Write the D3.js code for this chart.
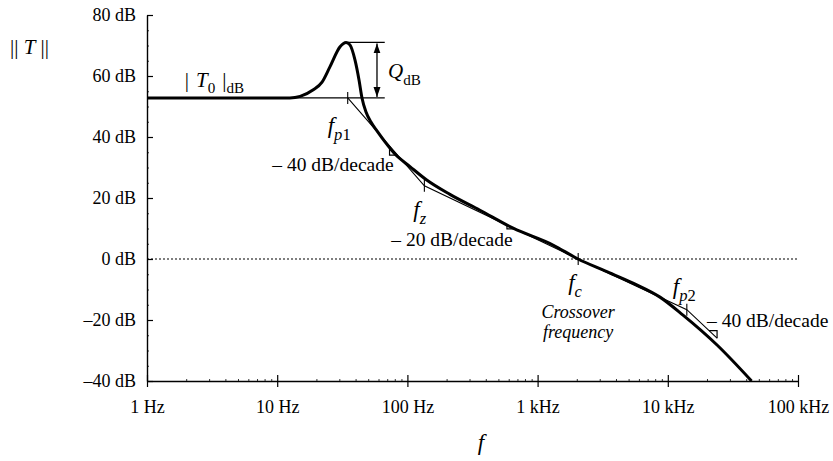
<!DOCTYPE html>
<html>
<head>
<meta charset="utf-8">
<script src="https://cdn.jsdelivr.net/npm/d3@7"></script>
<style>
  body { margin: 0; background: #fff; }
  text { font-family: "Liberation Serif", "Times New Roman", serif; fill: #000; }
</style>
</head>
<body>
<svg id="chart" width="833" height="461"></svg>
<script>
// values
const curveFreq = [1, 10, 12.5, 15, 18.8, 22.1, 25.4, 30.4, 33.8, 36.2, 39.6, 42.5, 44.8, 48.1, 52.5, 58.4, 67.3, 80.3, 104.7, 140.7, 212, 361, 649, 1312, 2043, 3296, 5407, 8710, 13090, 23890, 44000];
const curveDb = [52.8, 52.8, 52.8, 53.3, 55.4, 58.0, 63.0, 69.6, 71.0, 70.2, 65.2, 58.7, 52.8, 48.2, 44.9, 42.0, 38.4, 34.4, 30.3, 25.9, 21.2, 16.0, 10.1, 4.6, 0, -3.9, -7.9, -12.5, -18.4, -28.2, -40];

// asymptotes (break points)
const asymFreq = [34.8, 135, 2050, 14000, 24000];
const asymDb = [52.8, 24, 0, -16.6, -26];

const T0db = 52.8;
const peakFreq = 33.8, peakDb = 71.0;
const bracketEnd = 67;   // Hz, end of the Q bracket lines
const arrowFreq = 58.4;

const xTicks = [1, 10, 100, 1000, 10000, 100000];
const xTickLabels = ['1 Hz', '10 Hz', '100 Hz', '1 kHz', '10 kHz', '100 kHz'];
const yTicks = [-40, -20, 0, 20, 40, 60, 80];
const yTickLabels = ['\u201340 dB', '\u201320 dB', '0 dB', '20 dB', '40 dB', '60 dB', '80 dB'];

// slope markers: frequency on the asymptote, and which way the little corner goes
const slopeMarkFreq = [84, 670, 23900];
const slopeMarkType = ['bl', 'bl', 'tr'];

const svg = d3.select('#chart');

var x = d3.scaleLog().domain([1, 1e5]).range([147, 798]);
var y = d3.scaleLinear().domain([-40, 80]).range([381, 15]);

// minor ticks
const xMinor = [];
for (let d = 1; d < 1e5; d *= 10) for (let k = 2; k <= 9; k++) xMinor.push(d * k);
const yMinor = d3.range(-40, 81, 5).filter(v => v % 20 !== 0);

svg.append('g')
    .attr('transform', `translate(0, ${y(-40)})`)
    .call(d3.axisBottom(x).tickValues(xMinor).tickFormat('').tickSizeInner(-2).tickSizeOuter(0))
    .call(g => g.select('.domain').remove())
    .selectAll('line').attr('stroke-width', 0.8);

svg.append('g')
    .attr('transform', `translate(${x(1)}, 0)`)
    .call(d3.axisLeft(y).tickValues(yMinor).tickFormat('').tickSizeInner(2).tickSizeOuter(0))
    .call(g => g.select('.domain').remove())
    .selectAll('line').attr('x2', 2).attr('stroke-width', 0.8);

// major axes
const xAxis = svg.append('g')
    .attr('transform', `translate(0, ${y(-40)})`)
    .call(d3.axisBottom(x).tickValues(xTicks).tickFormat((d, i) => xTickLabels[i]).tickSize(6).tickSizeOuter(0).tickPadding(13));
xAxis.selectAll('.tick line').attr('y1', -6).attr('stroke-width', 1.2);
xAxis.select('.domain').attr('stroke-width', 1.4);
xAxis.selectAll('text').attr('font-size', 18).attr('font-family', '"Liberation Serif", serif');

const yAxis = svg.append('g')
    .attr('transform', `translate(${x(1)}, 0)`)
    .call(d3.axisLeft(y).tickValues(yTicks).tickFormat((d, i) => yTickLabels[i]).tickSize(6).tickSizeOuter(0).tickPadding(5));
yAxis.selectAll('.tick line').attr('x2', 6).attr('stroke-width', 1.2);
yAxis.select('.domain').attr('stroke-width', 1.4);
yAxis.selectAll('text').attr('font-size', 18).attr('font-family', '"Liberation Serif", serif');

// 0 dB dotted line
svg.append('line')
    .attr('x1', x(1)).attr('x2', x(1e5))
    .attr('y1', y(0)).attr('y2', y(0))
    .attr('stroke', '#000').attr('stroke-width', 1.1)
    .attr('stroke-dasharray', '2,2');

// T0 and Q bracket lines
svg.append('line')
    .attr('x1', x(1)).attr('x2', x(bracketEnd))
    .attr('y1', y(T0db)).attr('y2', y(T0db))
    .attr('stroke', '#000').attr('stroke-width', 1.3);
svg.append('line')
    .attr('x1', x(peakFreq)).attr('x2', x(bracketEnd))
    .attr('y1', y(peakDb)).attr('y2', y(peakDb))
    .attr('stroke', '#000').attr('stroke-width', 1.3);

svg.append('defs').append('marker')
    .attr('id', 'arr')
    .attr('viewBox', '0 0 10 10')
    .attr('refX', 10).attr('refY', 5)
    .attr('markerWidth', 10).attr('markerHeight', 10)
    .attr('markerUnits', 'userSpaceOnUse')
    .attr('orient', 'auto-start-reverse')
    .append('path').attr('d', 'M0,1.5 L10,5 L0,8.5 Z').attr('fill', '#000');

svg.append('line')
    .attr('x1', x(arrowFreq)).attr('x2', x(arrowFreq))
    .attr('y1', y(peakDb) + 1).attr('y2', y(T0db) - 1)
    .attr('stroke', '#000').attr('stroke-width', 1.3)
    .attr('marker-start', 'url(#arr)').attr('marker-end', 'url(#arr)');

// asymptote polyline
const asymData = asymFreq.map((f, i) => ({ f: f, db: asymDb[i] }));
svg.append('path')
    .attr('d', d3.line().x(d => x(d.f)).y(d => y(d.db))(asymData))
    .attr('fill', 'none').attr('stroke', '#000').attr('stroke-width', 1.1);

// ticks on the break frequencies
svg.selectAll('.brk')
    .data(asymData.slice(0, 4))
    .enter().append('line')
    .attr('x1', d => x(d.f)).attr('x2', d => x(d.f))
    .attr('y1', d => y(d.db) - 6).attr('y2', d => y(d.db) + 6)
    .attr('stroke', '#000').attr('stroke-width', 1.1);

// little slope corners
function asymY(px) {
    for (let i = 0; i < asymData.length - 1; i++) {
        const x0 = x(asymData[i].f), x1 = x(asymData[i + 1].f);
        if (px >= x0 && px <= x1) {
            const t = (px - x0) / (x1 - x0);
            return y(asymData[i].db) + t * (y(asymData[i + 1].db) - y(asymData[i].db));
        }
    }
    return y(asymData[asymData.length - 1].db);
}
slopeMarkFreq.forEach((f, i) => {
    const px = x(f), py = asymY(px);
    const ax = px - 8, ay = asymY(ax);
    const d = slopeMarkType[i] === 'bl'
        ? `M${ax},${ay} L${ax},${py} L${px},${py}`
        : `M${ax},${ay} L${px},${ay} L${px},${py}`;
    svg.append('path').attr('d', d).attr('fill', 'none').attr('stroke', '#000').attr('stroke-width', 1.2);
});

// the actual magnitude curve
const curveData = curveFreq.map((f, i) => ({ f: f, db: curveDb[i] }));
svg.append('path')
    .attr('d', d3.line().x(d => x(d.f)).y(d => y(d.db)).curve(d3.curveMonotoneX)(curveData))
    .attr('fill', 'none').attr('stroke', '#000').attr('stroke-width', 3)
    .attr('stroke-linejoin', 'round');

// text with italics / subscripts
function rich(px, py, parts, size, anchor) {
    const t = svg.append('text')
        .attr('x', px).attr('y', py)
        .attr('font-size', size)
        .attr('fill', '#000')
        .attr('text-anchor', anchor || 'start');
    let shifted = false;
    parts.forEach(p => {
        const s = t.append('tspan').text(p.t);
        if (p.i) s.attr('font-style', 'italic');
        if (p.dx) s.attr('dx', p.dx);
        if (p.sub) {
            s.attr('font-size', size * 0.72);
            if (!shifted) { s.attr('dy', size * 0.3); shifted = true; }
        } else if (shifted) {
            s.attr('dy', -size * 0.3); shifted = false;
        }
    });
    return t;
}

rich(10, 54, [{ t: '|| ' }, { t: 'T', i: true }, { t: ' ||' }], 21);
rich(x(1.95), y(T0db) - 11, [{ t: '|' }, { t: 'T', i: true, dx: 7 }, { t: '0', sub: true }, { t: '|', dx: 7 }, { t: 'dB', sub: true }], 21);
rich(x(arrowFreq) + 11, y((peakDb + T0db) / 2) + 8, [{ t: 'Q', i: true }, { t: 'dB', sub: true }], 21);

const names = [
    [{ t: 'f', i: true }, { t: 'p', i: true, sub: true }, { t: '1', sub: true }],
    [{ t: 'f', i: true }, { t: 'z', i: true, sub: true }],
    [{ t: 'f', i: true }, { t: 'c', i: true, sub: true }],
    [{ t: 'f', i: true }, { t: 'p', i: true, sub: true }, { t: '2', sub: true }]
];
const nameDx = [-20, -11, -10, -14];
const nameDy = [35, 31, 31, -16];
asymData.slice(0, 4).forEach((d, i) => {
    rich(x(d.f) + nameDx[i], y(d.db) + nameDy[i], names[i], 23);
});

rich(333, 171, [{ t: '\u2013 40 dB/decade' }], 19.5, 'middle');
rich(452, 246, [{ t: '\u2013 20 dB/decade' }], 19.5, 'middle');
rich(707, 327, [{ t: '\u2013 40 dB/decade' }], 19.5, 'start');

svg.append('text').attr('x', x(2050)).attr('y', 318).attr('text-anchor', 'middle')
    .attr('font-size', 18).attr('font-style', 'italic').text('Crossover');
svg.append('text').attr('x', x(2050)).attr('y', 338).attr('text-anchor', 'middle')
    .attr('font-size', 18).attr('font-style', 'italic').text('frequency');

// axis title
svg.append('text').attr('x', 481).attr('y', 450).attr('text-anchor', 'middle')
    .attr('font-size', 23).attr('font-style', 'italic').text('f');
</script>
</body>
</html>
